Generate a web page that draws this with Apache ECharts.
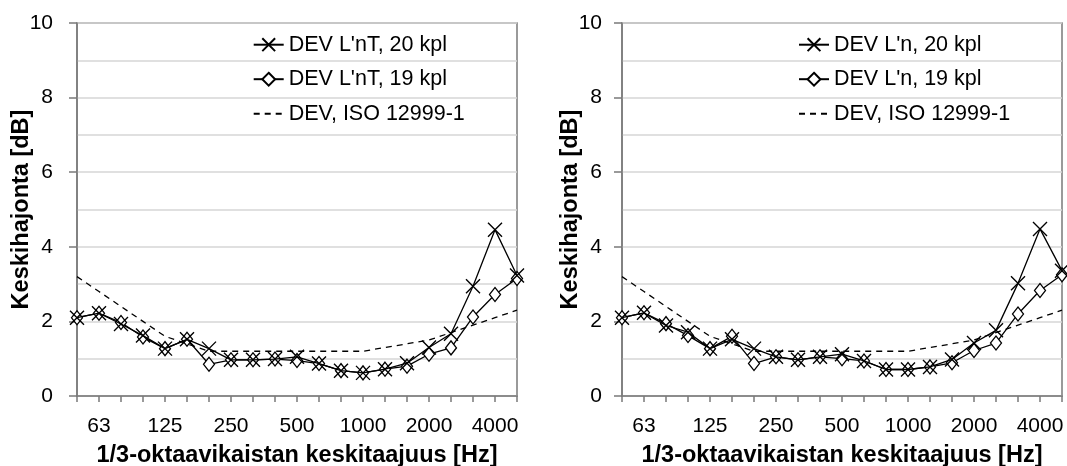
<!DOCTYPE html>
<html>
<head>
<meta charset="utf-8">
<script src="https://cdn.jsdelivr.net/npm/echarts@6/dist/echarts.min.js"></script>
<style>
html,body{margin:0;padding:0;background:#fff;}
#c{width:1067px;height:466px;}
</style>
</head>
<body>
<div id="c"></div>
<script>
const freqs = ['50','63','80','100','125','160','200','250','315','400','500','630','800','1000','1250','1600','2000','2500','3150','4000','5000'];
const yTicks = [0, 2, 4, 6, 8, 10];

const leftNames = ["DEV L'nT, 20 kpl", "DEV L'nT, 19 kpl"];
const rightNames = ["DEV L'n, 20 kpl", "DEV L'n, 19 kpl"];
const isoName = 'DEV, ISO 12999-1';

const leftX = [2.10, 2.22, 1.93, 1.62, 1.27, 1.52, 1.27, 0.97, 0.97, 0.99, 1.05, 0.87, 0.68, 0.62, 0.72, 0.88, 1.30, 1.67, 2.94, 4.46, 3.23];
const leftD = [2.10, 2.22, 1.97, 1.58, 1.27, 1.52, 0.85, 0.97, 0.97, 0.99, 0.95, 0.87, 0.68, 0.62, 0.72, 0.80, 1.12, 1.29, 2.12, 2.72, 3.15];
const rightX = [2.10, 2.23, 1.89, 1.71, 1.27, 1.52, 1.27, 1.05, 0.97, 1.05, 1.12, 0.94, 0.71, 0.71, 0.78, 0.98, 1.42, 1.76, 3.02, 4.48, 3.36];
const rightD = [2.10, 2.23, 1.94, 1.62, 1.27, 1.60, 0.87, 1.05, 0.97, 1.05, 1.00, 0.94, 0.71, 0.71, 0.78, 0.89, 1.22, 1.42, 2.20, 2.83, 3.25];
const iso = [3.2, 2.8, 2.4, 2.0, 1.6, 1.4, 1.2, 1.2, 1.2, 1.2, 1.2, 1.2, 1.2, 1.2, 1.3, 1.4, 1.5, 1.7, 1.9, 2.1, 2.3];

const FONT = "'Liberation Sans', Arial, sans-serif";
const AX = '#7a7a7a';
const GRIDC = '#d6d6d6';
const xSym = 'path://M0,0L10,10M10,0L0,10';

function xAxis(gi) {
  return {
    type: 'category', gridIndex: gi, data: freqs, boundaryGap: false,
    axisLine: { lineStyle: { color: AX, width: 1.5 } },
    axisTick: { interval: 0, length: 6, lineStyle: { color: AX, width: 1.5 } },
    axisLabel: { interval: (i) => i % 3 === 1, color: '#000', fontSize: 21, fontFamily: FONT, margin: 20 },
    name: '1/3-oktaavikaistan keskitaajuus [Hz]', nameLocation: 'middle', nameGap: 48, nameMoveOverlap: false,
    nameTextStyle: { color: '#000', fontSize: 23.5, fontWeight: 'bold', fontFamily: FONT },
    splitLine: { show: false }
  };
}
function yAxis(gi, labelMargin, nameGap) {
  return {
    type: 'value', gridIndex: gi, min: yTicks[0], max: yTicks[yTicks.length - 1], interval: 2,
    axisLine: { show: true, lineStyle: { color: AX, width: 1.5 } },
    axisTick: { show: true, length: 8, lineStyle: { color: AX, width: 1.5 } },
    axisLabel: { color: '#000', fontSize: 21, fontFamily: FONT, margin: labelMargin },
    splitLine: { show: true, lineStyle: { color: GRIDC, width: 1.5 } },
    minorTick: { show: false, splitNumber: 2 },
    minorSplitLine: { show: true, lineStyle: { color: GRIDC, width: 1.5 } },
    name: 'Keskihajonta [dB]', nameLocation: 'middle', nameGap: nameGap, nameRotate: 90, nameMoveOverlap: false,
    nameTextStyle: { color: '#000', fontSize: 23.5, fontWeight: 'bold', fontFamily: FONT }
  };
}
function seriesFor(gi, names, xs, ds) {
  return [
    { name: isoName, type: 'line', xAxisIndex: gi, yAxisIndex: gi, data: iso, symbol: 'none',
      lineStyle: { color: '#000', width: 1.3, type: [6, 5] }, itemStyle: { color: '#000' }, z: 2, silent: true },
    { name: names[1], type: 'line', xAxisIndex: gi, yAxisIndex: gi, data: ds, symbol: 'diamond', symbolSize: [11, 14],
      showAllSymbol: true,
      lineStyle: { color: '#000', width: 1.3 }, itemStyle: { color: '#fff', borderColor: '#000', borderWidth: 1.3 }, z: 3, silent: true },
    { name: names[0], type: 'line', xAxisIndex: gi, yAxisIndex: gi, data: xs, symbol: xSym, symbolSize: 14,
      showAllSymbol: true,
      lineStyle: { color: '#000', width: 1.3 }, itemStyle: { color: '#000', borderColor: '#000', borderWidth: 1.4 }, z: 4, silent: true }
  ];
}
function legendFor(left, names) {
  return {
    left: left, top: 33.7, orient: 'vertical', padding: 0, itemGap: 12.5, itemWidth: 30, itemHeight: 16,
    data: [names[0], names[1], { name: isoName, itemStyle: { opacity: 0 } }],
    textStyle: { color: '#000', fontSize: 21.5, fontFamily: FONT, lineHeight: 22, padding: [0, 0, 0, 0] },
    selectedMode: false
  };
}

const chart = echarts.init(document.getElementById('c'), null, { renderer: 'canvas' });
chart.setOption({
  backgroundColor: '#fff',
  animation: false,
  grid: [
    { left: 77, right: 1067 - 517, top: 23, bottom: 70, show: true, borderColor: AX, borderWidth: 1.5, backgroundColor: 'transparent', containLabel: false, outerBoundsMode: 'none' },
    { left: 622, right: 1067 - 1062, top: 23, bottom: 70, show: true, borderColor: AX, borderWidth: 1.5, backgroundColor: 'transparent', containLabel: false, outerBoundsMode: 'none' }
  ],
  legend: [legendFor(252.7, leftNames), legendFor(798, rightNames)],
  xAxis: [xAxis(0), xAxis(1)],
  yAxis: [yAxis(0, 24, 43), yAxis(1, 20, 39)],
  series: [].concat(seriesFor(0, leftNames, leftX, leftD), seriesFor(1, rightNames, rightX, rightD))
});
</script>
</body>
</html>
